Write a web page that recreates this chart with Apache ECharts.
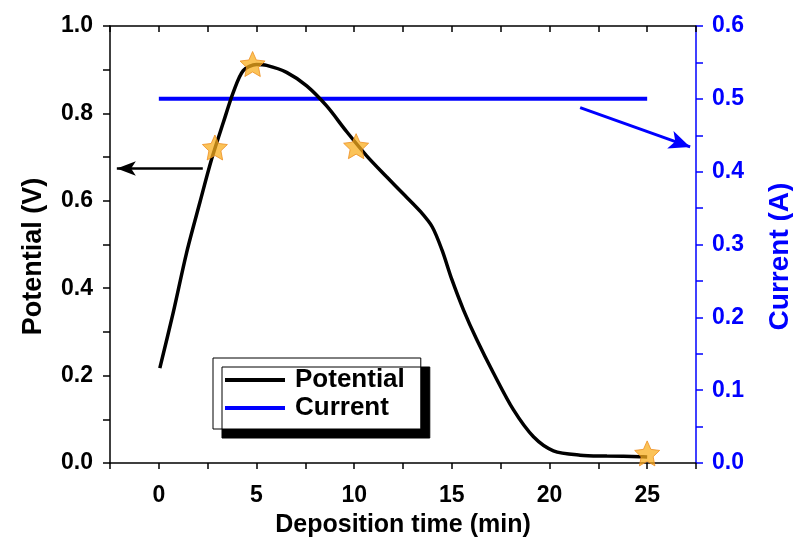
<!DOCTYPE html>
<html>
<head>
<meta charset="utf-8">
<script src="https://cdn.jsdelivr.net/npm/echarts@6/dist/echarts.min.js"></script>
<style>
  html, body { margin: 0; padding: 0; background: #fff; overflow: hidden; }
  #main { width: 793px; height: 540px; }
</style>
</head>
<body>
<div id="main"></div>
<script>
// potential curve: [time (min), potential (V)]
var potential = [
  [0.05, 0.217], [0.73, 0.343], [1.42, 0.481], [2.1, 0.596], [2.7, 0.695],
  [3.3, 0.779], [3.81, 0.848], [4.32, 0.898], [5.0, 0.912], [5.52, 0.910],
  [6.54, 0.894], [7.57, 0.863], [8.59, 0.817], [9.62, 0.758], [10.64, 0.703],
  [11.66, 0.655], [12.6, 0.612], [13.4, 0.575], [14.0, 0.540], [14.5, 0.487],
  [15.0, 0.420], [15.6, 0.350], [16.28, 0.282], [17.13, 0.206], [18.15, 0.122],
  [19.18, 0.060], [20.2, 0.028], [21.57, 0.018], [22.94, 0.016], [24.64, 0.0145],
  [25.0, 0.014]
];
// constant current, right axis
var current = [[0, 0.5], [25, 0.5]];
// star markers
var stars = [[2.87, 0.722], [4.8, 0.913], [10.1, 0.725], [25.0, 0.022]];
// arrow annotations
var leftArrow = [[2.25, 0.674], [-2.15, 0.674]];
var rightArrow = [[21.57, 0.488], [27.2, 0.434]];

var FONT = '"Liberation Sans", Arial, sans-serif';

// fat five-point star for the markers
function starSymbol(inner) {
  var pts = [];
  for (var i = 0; i < 10; i++) {
    var r = (i % 2 === 0) ? 50 : 50 * inner;
    var a = (-90 + i * 36) * Math.PI / 180;
    pts.push((50 + r * Math.cos(a)).toFixed(2) + ',' + (50 + r * Math.sin(a)).toFixed(2));
  }
  return 'path://M' + pts.join(' L') + ' Z';
}

var option = {
  backgroundColor: '#FFFFFF',
  animation: false,
  grid: { left: 110, right: 97, top: 26, bottom: 77, containLabel: false, outerBoundsMode: 'none' },
  legend: {
    data: ['Potential', 'Current'],
    orient: 'vertical',
    left: 213,
    top: 358,
    padding: [9, 16, 8, 12],
    itemGap: 2,
    itemWidth: 60,
    itemHeight: 4,
    icon: 'rect',
    backgroundColor: '#FFFFFF',
    borderColor: '#000000',
    borderWidth: 1,
    borderRadius: 0,
    shadowColor: '#000000',
    shadowBlur: 0,
    shadowOffsetX: 9,
    shadowOffsetY: 9,
    textStyle: {
      fontFamily: FONT, fontWeight: 'bold', fontSize: 26, color: '#000',
      lineHeight: 25, padding: [0, 0, 0, 5]
    }
  },
  xAxis: [{
    type: 'value',
    min: -2.5, max: 27.5, interval: 2.5,
    name: 'Deposition time (min)',
    nameLocation: 'middle',
    nameGap: 50,
    nameTextStyle: { fontFamily: FONT, fontWeight: 'bold', fontSize: 25, color: '#000' },
    splitLine: { show: false },
    axisLine: { onZero: false, lineStyle: { color: '#000', width: 1.5 } },
    axisTick: { inside: false, length: 6, lineStyle: { color: '#000', width: 1.5 } },
    axisLabel: {
      margin: 21,
      fontFamily: FONT, fontWeight: 'bold', fontSize: 23, color: '#000',
      formatter: function (v) { return (Math.abs(v % 5) < 1e-6) ? String(v) : ''; }
    }
  }, {
    type: 'value', position: 'top',
    min: -2.5, max: 27.5, interval: 2.5,
    splitLine: { show: false },
    axisLine: { onZero: false, lineStyle: { color: '#000', width: 1.5 } },
    axisTick: { inside: true, length: 6, lineStyle: { color: '#000', width: 1.5 } },
    axisLabel: { show: false }
  }],
  yAxis: [{
    type: 'value',
    min: 0, max: 1, interval: 0.2,
    name: 'Potential (V)',
    nameLocation: 'middle',
    nameRotate: 90,
    nameGap: 63,
    nameTextStyle: {
      fontFamily: FONT, fontWeight: 'bold', fontSize: 27, color: '#000',
      padding: [0, 24, 0, 0]
    },
    splitLine: { show: false },
    axisLine: { show: true, onZero: false, lineStyle: { color: '#000', width: 1.5 } },
    axisTick: { inside: false, length: 7, lineStyle: { color: '#000', width: 1.5 } },
    minorTick: { show: true, splitNumber: 2, length: 7, lineStyle: { color: '#000', width: 1.5 } },
    axisLabel: {
      margin: 17,
      fontFamily: FONT, fontWeight: 'bold', fontSize: 23, color: '#000',
      formatter: function (v) { return v.toFixed(1); }
    }
  }, {
    type: 'value', position: 'right',
    min: 0, max: 0.6, interval: 0.1,
    name: 'Current (A)',
    nameLocation: 'middle',
    nameRotate: 90,
    nameGap: 70,
    nameTextStyle: {
      fontFamily: FONT, fontWeight: 'bold', fontSize: 28, color: '#0000FF',
      padding: [0, 24, 0, 0]
    },
    splitLine: { show: false },
    axisLine: { show: true, onZero: false, lineStyle: { color: '#0000FF', width: 1.5 } },
    axisTick: { inside: false, length: 7, lineStyle: { color: '#0000FF', width: 1.5 } },
    minorTick: { show: true, splitNumber: 2, length: 7, lineStyle: { color: '#0000FF', width: 1.5 } },
    axisLabel: {
      margin: 16,
      fontFamily: FONT, fontWeight: 'bold', fontSize: 23, color: '#0000FF',
      formatter: function (v) { return v.toFixed(1); }
    }
  }],
  series: [{
    name: 'Current',
    type: 'line',
    yAxisIndex: 1,
    data: current,
    showSymbol: false,
    color: '#0000FF',
    lineStyle: { color: '#0000FF', width: 4 },
    silent: true,
    z: 2,
    markLine: {
      silent: true,
      symbol: ['none', 'arrow'],
      symbolSize: [14, 21],
      label: { show: false },
      lineStyle: { color: '#0000FF', width: 3, type: 'solid' },
      data: [[{ coord: rightArrow[0] }, { coord: rightArrow[1] }]]
    }
  }, {
    name: 'Potential',
    type: 'line',
    data: potential,
    smooth: 0.3,
    showSymbol: false,
    color: '#000000',
    lineStyle: { color: '#000000', width: 3.5 },
    silent: true,
    z: 3,
    markLine: {
      silent: true,
      symbol: ['none', 'arrow'],
      symbolSize: [11, 19],
      label: { show: false },
      lineStyle: { color: '#000000', width: 2.5, type: 'solid' },
      data: [[{ coord: leftArrow[0] }, { coord: leftArrow[1] }]]
    }
  }, {
    name: 'Stars',
    type: 'scatter',
    data: stars,
    symbol: starSymbol(0.48),
    symbolSize: 25,
    itemStyle: { color: 'rgba(250,174,28,0.92)', borderColor: '#EE8E22', borderWidth: 1 },
    silent: true,
    z: 4
  }]
};

var chart = echarts.init(document.getElementById('main'));
chart.setOption(option);
</script>
</body>
</html>
